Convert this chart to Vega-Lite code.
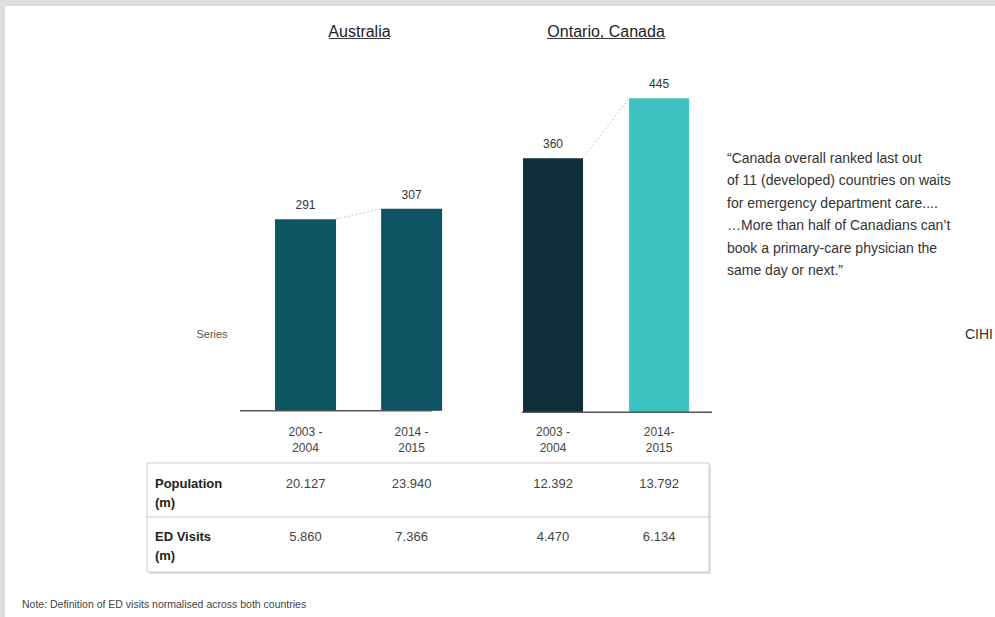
{
  "$schema": "https://vega.github.io/schema/vega-lite/v6.json",
  "width": 990,
  "height": 611,
  "autosize": {"type": "none"},
  "padding": {"left": 5, "top": 6, "right": 0, "bottom": 0},
  "background": "#dcdddf",
  "config": {
    "view": {"fill": "white", "stroke": null},
    "text": {"font": "Liberation Sans"},
    "font": "Liberation Sans"
  },
  "datasets": {
    "bars": [
      {"country": "Australia", "period": "2003 -\n2004", "key": "AU 2003-04", "visits": 291},
      {"country": "Australia", "period": "2014 -\n2015", "key": "AU 2014-15", "visits": 307},
      {"country": "Ontario, Canada", "period": "2003 -\n2004", "key": "ON 2003-04", "visits": 360},
      {"country": "Ontario, Canada", "period": "2014-\n2015", "key": "ON 2014-15", "visits": 445}
    ],
    "links": [
      {"country": "Australia", "from": "AU 2003-04", "to": "AU 2014-15", "v1": 291, "v2": 307},
      {"country": "Ontario, Canada", "from": "ON 2003-04", "to": "ON 2014-15", "v1": 360, "v2": 445}
    ],
    "table": [
      {"metric": "Population", "key": "AU 2003-04", "value": 20.127},
      {"metric": "Population", "key": "AU 2014-15", "value": 23.94},
      {"metric": "Population", "key": "ON 2003-04", "value": 12.392},
      {"metric": "Population", "key": "ON 2014-15", "value": 13.792},
      {"metric": "ED Visits", "key": "AU 2003-04", "value": 5.86},
      {"metric": "ED Visits", "key": "AU 2014-15", "value": 7.366},
      {"metric": "ED Visits", "key": "ON 2003-04", "value": 4.47},
      {"metric": "ED Visits", "key": "ON 2014-15", "value": 6.134}
    ]
  },
  "layer": [
    {
      "data": {"name": "bars"},
      "transform": [{"filter": "datum.country === 'Australia'"}],
      "layer": [
        {
          "mark": {"type": "bar", "width": 61},
          "encoding": {
            "x": {"field": "key", "type": "nominal", "axis": null,
              "scale": {"domain": ["a0","a1","a2","a3","a4","a5","a6","a7","AU 2003-04","a9","a10","AU 2014-15","a12","a13","a14","ON 2003-04","a16","a17","ON 2014-15","a19","a20","a21","a22","a23","a24","a25","a26","a27"], "paddingInner": 0, "paddingOuter": 0}},
            "y": {"field": "visits", "type": "quantitative", "axis": null,
              "scale": {"domain": [-313.5, 615], "nice": false, "zero": false}},
            "color": {"field": "key", "type": "nominal", "legend": null,
              "scale": {"domain": ["AU 2003-04", "AU 2014-15", "ON 2003-04", "ON 2014-15"], "range": ["#0e5562", "#0d5361", "#0e2e3c", "#3dc1c1"]}}
          }
        },
        {
          "mark": {"type": "text", "dy": -10, "fontSize": 12, "color": "#333", "baseline": "alphabetic"},
          "encoding": {
            "x": {"field": "key", "type": "nominal", "bandPosition": 0.5},
            "y": {"field": "visits", "type": "quantitative"},
            "text": {"field": "visits", "type": "quantitative"}
          }
        },
        {
          "data": {"name": "links"},
          "transform": [{"filter": "datum.country === 'Australia'"}],
          "mark": {"type": "rule", "color": "#c4c4c4", "strokeDash": [2, 2], "strokeWidth": 1, "xOffset": 30.5, "x2Offset": -30.5},
          "encoding": {
            "x": {"field": "from", "type": "nominal", "bandPosition": 0.5},
            "x2": {"field": "to", "bandPosition": 0.5},
            "y": {"field": "v1", "type": "quantitative"},
            "y2": {"field": "v2"}
          }
        },
        {
          "data": {"values": [{"country": "Australia"}]},
          "mark": {"type": "rule", "color": "#555", "strokeWidth": 1.5},
          "encoding": {
            "x": {"datum": "a6", "type": "nominal", "bandPosition": 0.646},
            "x2": {"datum": "a12", "bandPosition": 0.077},
            "y": {"datum": 0, "type": "quantitative"}
          }
        }
      ]
    },
    {
      "data": {"name": "bars"},
      "transform": [{"filter": "datum.country === 'Ontario, Canada'"}],
      "layer": [
        {
          "mark": {"type": "bar", "width": 60},
          "encoding": {
            "x": {"field": "key", "type": "nominal", "axis": null,
              "scale": {"domain": ["a0","a1","a2","a3","a4","a5","a6","a7","AU 2003-04","a9","a10","AU 2014-15","a12","a13","a14","ON 2003-04","a16","a17","ON 2014-15","a19","a20","a21","a22","a23","a24","a25","a26","a27"], "paddingInner": 0, "paddingOuter": 0}},
            "y": {"field": "visits", "type": "quantitative", "axis": null,
              "scale": {"domain": [-289.9, 575.5], "nice": false, "zero": false}},
            "color": {"field": "key", "type": "nominal", "legend": null}
          }
        },
        {
          "mark": {"type": "text", "dy": -10, "fontSize": 12, "color": "#333", "baseline": "alphabetic"},
          "encoding": {
            "x": {"field": "key", "type": "nominal", "bandPosition": 0.5},
            "y": {"field": "visits", "type": "quantitative"},
            "text": {"field": "visits", "type": "quantitative"}
          }
        },
        {
          "data": {"name": "links"},
          "transform": [{"filter": "datum.country === 'Ontario, Canada'"}],
          "mark": {"type": "rule", "color": "#c4c4c4", "strokeDash": [2, 2], "strokeWidth": 1, "xOffset": 30, "x2Offset": -30},
          "encoding": {
            "x": {"field": "from", "type": "nominal", "bandPosition": 0.5},
            "x2": {"field": "to", "bandPosition": 0.5},
            "y": {"field": "v1", "type": "quantitative"},
            "y2": {"field": "v2"}
          }
        },
        {
          "data": {"values": [{"country": "Ontario, Canada"}]},
          "mark": {"type": "rule", "color": "#555", "strokeWidth": 1.5},
          "encoding": {
            "x": {"datum": "a14", "type": "nominal", "bandPosition": 0.622},
            "x2": {"datum": "a19", "bandPosition": 0.996},
            "y": {"datum": 0, "type": "quantitative"}
          }
        },
        {
          "data": {"name": "bars"},
          "mark": {"type": "text", "fontSize": 12, "color": "#444", "baseline": "alphabetic", "align": "center", "lineBreak": "\n", "lineHeight": 16},
          "encoding": {
            "x": {"field": "key", "type": "nominal", "bandPosition": 0.5},
            "y": {"datum": -33.3, "type": "quantitative"},
            "text": {"field": "period", "type": "nominal"}
          }
        },
        {
          "data": {"values": [{"t": "Australia"}]},
          "mark": {"type": "text", "fontSize": 16, "color": "#222", "baseline": "alphabetic", "align": "center"},
          "encoding": {
            "x": {"datum": "a10", "type": "nominal", "bandPosition": 0.026},
            "y": {"datum": 532.3, "type": "quantitative"},
            "text": {"field": "t", "type": "nominal"}
          }
        },
        {
          "data": {"values": [{"t": "Ontario, Canada"}]},
          "mark": {"type": "text", "fontSize": 16, "color": "#222", "baseline": "alphabetic", "align": "center"},
          "encoding": {
            "x": {"datum": "a17", "type": "nominal", "bandPosition": 0.0},
            "y": {"datum": 532.3, "type": "quantitative"},
            "text": {"field": "t", "type": "nominal"}
          }
        },
        {
          "data": {"values": [{"t": "Australia"}]},
          "mark": {"type": "rule", "color": "#333", "strokeWidth": 1},
          "encoding": {
            "x": {"datum": "a9", "type": "nominal", "bandPosition": 0.164},
            "x2": {"datum": "a10", "bandPosition": 0.889},
            "y": {"datum": 529.5, "type": "quantitative"}
          }
        },
        {
          "data": {"values": [{"t": "Ontario, Canada"}]},
          "mark": {"type": "rule", "color": "#333", "strokeWidth": 1},
          "encoding": {
            "x": {"datum": "ON 2003-04", "type": "nominal", "bandPosition": 0.33},
            "x2": {"datum": "ON 2014-15", "bandPosition": 0.667},
            "y": {"datum": 529.5, "type": "quantitative"}
          }
        },
        {
          "data": {"values": [{"t": "Series"}]},
          "mark": {"type": "text", "fontSize": 11, "color": "#555", "baseline": "middle", "align": "center"},
          "encoding": {
            "x": {"datum": "a5", "type": "nominal", "bandPosition": 0.855},
            "y": {"datum": 109.5, "type": "quantitative"},
            "text": {"field": "t", "type": "nominal"}
          }
        },
        {
          "data": {"values": [{"t": "table shadow"}]},
          "mark": {"type": "rect", "fill": "#e2e2e2", "xOffset": 2, "x2Offset": 2, "yOffset": 2, "y2Offset": 2},
          "encoding": {
            "x": {"datum": "a4", "type": "nominal", "bandPosition": 0.016},
            "x2": {"datum": "a19", "bandPosition": 0.911},
            "y": {"datum": -71.7, "type": "quantitative"},
            "y2": {"datum": -226.2}
          }
        },
        {
          "data": {"values": [{"t": "table"}]},
          "mark": {"type": "rect", "fill": "white", "stroke": "#cccccc", "strokeWidth": 1},
          "encoding": {
            "x": {"datum": "a4", "type": "nominal", "bandPosition": 0.016},
            "x2": {"datum": "a19", "bandPosition": 0.911},
            "y": {"datum": -71.7, "type": "quantitative"},
            "y2": {"datum": -226.2}
          }
        },
        {
          "data": {"values": [{"t": "divider"}]},
          "mark": {"type": "rule", "color": "#cccccc", "strokeWidth": 1},
          "encoding": {
            "x": {"datum": "a4", "type": "nominal", "bandPosition": 0.016},
            "x2": {"datum": "a19", "bandPosition": 0.911},
            "y": {"datum": -148.2, "type": "quantitative"}
          }
        },
        {
          "data": {"values": [{"t": "Population\n(m)"}]},
          "mark": {"type": "text", "fontSize": 13, "fontWeight": "bold", "color": "#222", "baseline": "alphabetic", "align": "left", "lineBreak": "\n", "lineHeight": 19},
          "encoding": {
            "x": {"datum": "a4", "type": "nominal", "bandPosition": 0.242},
            "y": {"datum": -106.5, "type": "quantitative"},
            "text": {"field": "t", "type": "nominal"}
          }
        },
        {
          "data": {"values": [{"t": "ED Visits\n(m)"}]},
          "mark": {"type": "text", "fontSize": 13, "fontWeight": "bold", "color": "#222", "baseline": "alphabetic", "align": "left", "lineBreak": "\n", "lineHeight": 19},
          "encoding": {
            "x": {"datum": "a4", "type": "nominal", "bandPosition": 0.242},
            "y": {"datum": -181.6, "type": "quantitative"},
            "text": {"field": "t", "type": "nominal"}
          }
        },
        {
          "data": {"name": "table"},
          "transform": [{"filter": "datum.metric === 'Population'"}],
          "mark": {"type": "text", "fontSize": 13, "color": "#444", "baseline": "alphabetic", "align": "center"},
          "encoding": {
            "x": {"field": "key", "type": "nominal", "bandPosition": 0.5},
            "y": {"datum": -106.6, "type": "quantitative"},
            "text": {"field": "value", "type": "quantitative", "format": ".3f"}
          }
        },
        {
          "data": {"name": "table"},
          "transform": [{"filter": "datum.metric === 'ED Visits'"}],
          "mark": {"type": "text", "fontSize": 13, "color": "#444", "baseline": "alphabetic", "align": "center"},
          "encoding": {
            "x": {"field": "key", "type": "nominal", "bandPosition": 0.5},
            "y": {"datum": -181.7, "type": "quantitative"},
            "text": {"field": "value", "type": "quantitative", "format": ".3f"}
          }
        },
        {
          "data": {"values": [{"t": "“Canada overall ranked last out\nof 11 (developed) countries on waits\n\u00a0for emergency department care....\n…More than half of Canadians can’t\nbook a primary-care physician the\nsame day or next.”"}]},
          "mark": {"type": "text", "fontSize": 14, "color": "#333", "baseline": "alphabetic", "align": "left", "lineBreak": "\n", "lineHeight": 22.4},
          "encoding": {
            "x": {"datum": "a20", "type": "nominal", "bandPosition": 0.42},
            "y": {"datum": 353.0, "type": "quantitative"},
            "text": {"field": "t", "type": "nominal"}
          }
        },
        {
          "data": {"values": [{"t": "CIHI"}]},
          "mark": {"type": "text", "fontSize": 14, "color": "#333", "baseline": "alphabetic", "align": "left"},
          "encoding": {
            "x": {"datum": "a27", "type": "nominal", "bandPosition": 0.15},
            "y": {"datum": 103.7, "type": "quantitative"},
            "text": {"field": "t", "type": "nominal"}
          }
        },
        {
          "data": {"values": [{"t": "Note: Definition of ED visits normalised across both countries"}]},
          "mark": {"type": "text", "fontSize": 10.5, "color": "#444", "baseline": "alphabetic", "align": "left"},
          "encoding": {
            "x": {"datum": "a0", "type": "nominal", "bandPosition": 0.48},
            "y": {"datum": -277.2, "type": "quantitative"},
            "text": {"field": "t", "type": "nominal"}
          }
        }
      ]
    }
  ],
  "resolve": {"scale": {"y": "independent"}}
}
